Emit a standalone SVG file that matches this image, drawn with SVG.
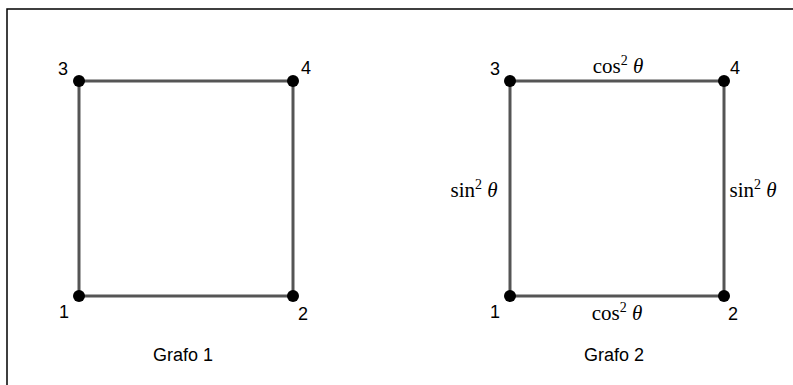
<svg xmlns="http://www.w3.org/2000/svg" width="793" height="385" viewBox="0 0 793 385">
<style>
.edge{stroke:#555;stroke-width:3;fill:none}
.node{fill:#000}
.lbl{font-family:"Liberation Sans",Arial,sans-serif;font-size:18px;fill:#000}
.math{font-family:"Liberation Serif","Times New Roman",serif;font-size:21px;fill:#000}
.frame{stroke:#000;stroke-width:1.5;fill:none}
</style>
<rect width="793" height="385" fill="#fff"/>
<path class="frame" d="M7,385 V9 H793"/>
<g id="connectors">
<line class="edge" x1="79" y1="81" x2="293" y2="81"/>
<line class="edge" x1="79" y1="81" x2="79" y2="296"/>
<line class="edge" x1="293" y1="81" x2="293" y2="296"/>
<line class="edge" x1="79" y1="296" x2="293" y2="296"/>
<line class="edge" x1="510" y1="81" x2="724" y2="81"/>
<line class="edge" x1="510" y1="81" x2="510" y2="296"/>
<line class="edge" x1="724" y1="81" x2="724" y2="296"/>
<line class="edge" x1="510" y1="296" x2="724" y2="296"/>
<text class="math" x="618" y="73" text-anchor="middle">cos<tspan font-size="14" dy="-8">2</tspan><tspan dy="8" font-style="italic"> θ</tspan></text>
<text class="math" x="617" y="320" text-anchor="middle">cos<tspan font-size="14" dy="-8">2</tspan><tspan dy="8" font-style="italic"> θ</tspan></text>
<text class="math" x="474" y="197" text-anchor="middle">sin<tspan font-size="14" dy="-8">2</tspan><tspan dy="8" font-style="italic"> θ</tspan></text>
<text class="math" x="753" y="197" text-anchor="middle">sin<tspan font-size="14" dy="-8">2</tspan><tspan dy="8" font-style="italic"> θ</tspan></text>
</g>
<g id="g1-n3"><circle class="node" cx="79" cy="81" r="6"/><text class="lbl" x="58" y="75">3</text></g>
<g id="g1-n4"><circle class="node" cx="293" cy="81" r="6"/><text class="lbl" x="301" y="74">4</text></g>
<g id="g1-n1"><circle class="node" cx="79" cy="296" r="6"/><text class="lbl" x="59" y="318">1</text></g>
<g id="g1-n2"><circle class="node" cx="293" cy="296" r="6"/><text class="lbl" x="298" y="320">2</text></g>
<g id="g2-n3"><circle class="node" cx="510" cy="81" r="6"/><text class="lbl" x="490" y="75">3</text></g>
<g id="g2-n4"><circle class="node" cx="724" cy="81" r="6"/><text class="lbl" x="730" y="74">4</text></g>
<g id="g2-n1"><circle class="node" cx="510" cy="296" r="6"/><text class="lbl" x="490" y="318">1</text></g>
<g id="g2-n2"><circle class="node" cx="724" cy="296" r="6"/><text class="lbl" x="728" y="320">2</text></g>
<text class="lbl" x="183" y="361" text-anchor="middle">Grafo 1</text>
<text class="lbl" x="614" y="361" text-anchor="middle">Grafo 2</text>
</svg>
